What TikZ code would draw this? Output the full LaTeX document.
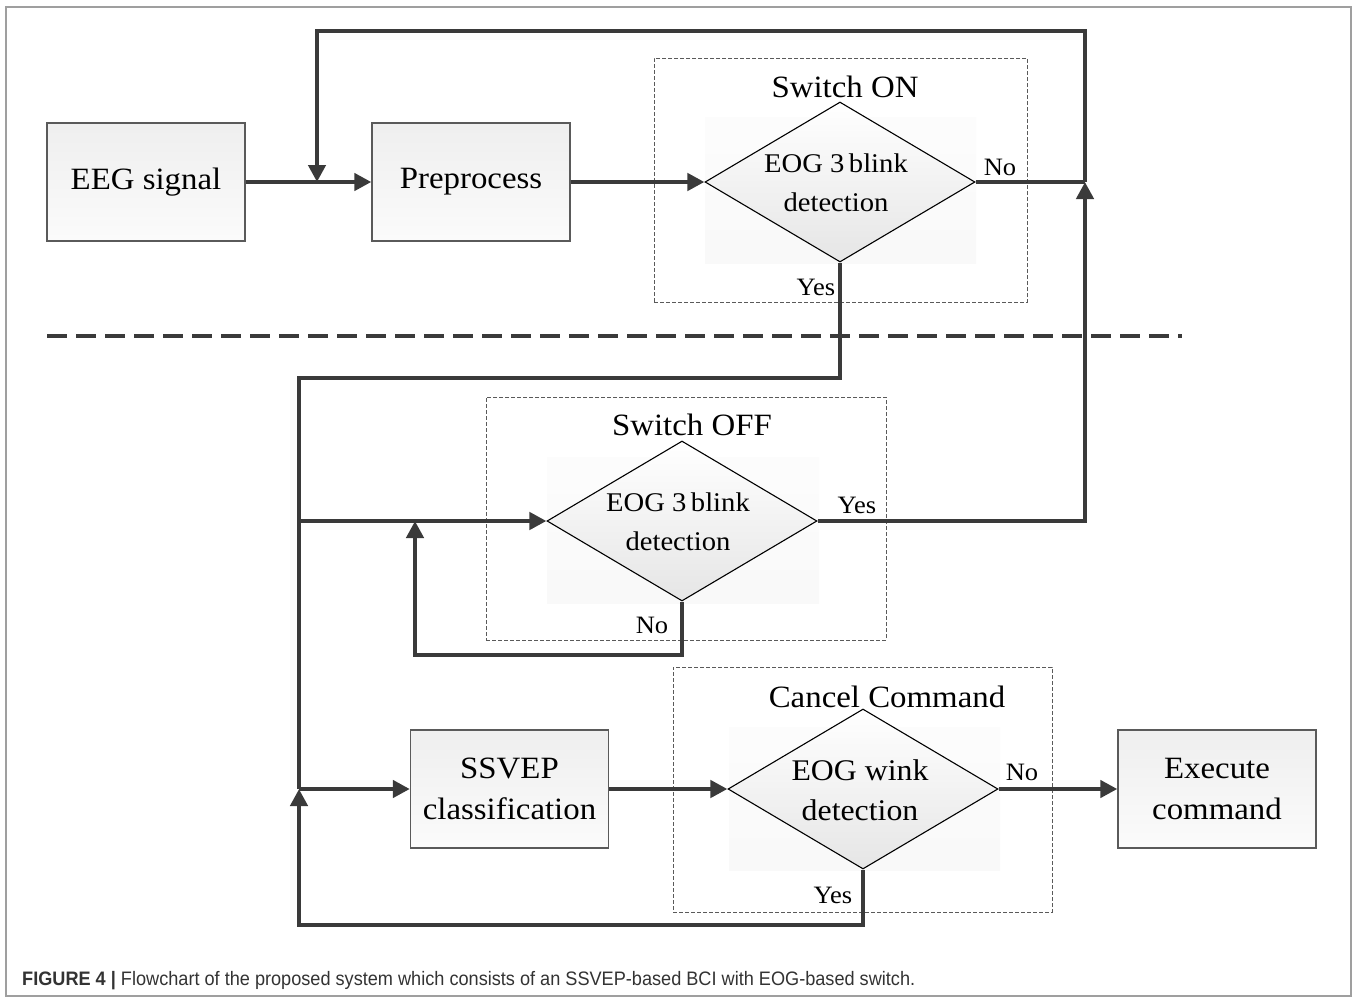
\documentclass[tikz,border=0pt]{standalone}
\usepackage{fontspec}
\setmainfont[FakeStretch=1.06]{Liberation Serif}
\newfontfamily\capfont[FakeStretch=0.93]{Liberation Sans}
\usetikzlibrary{arrows.meta,shapes.geometric}
\definecolor{ln}{HTML}{3A3A3A}
\definecolor{bd}{HTML}{5A5A5A}
\begin{document}
\begin{tikzpicture}[x=1pt,y=-1pt,
 conn/.style={draw=ln,line width=4.5pt},
 arr/.style={conn,-{Triangle[length=17pt,width=17pt]}},
 procbox/.style={draw=bd,line width=1.3pt,top color=gray!13,bottom color=gray!3,minimum width=198pt,minimum height=118pt,inner sep=0pt,align=center,font=\fontsize{31}{41}\selectfont},
 decision/.style={diamond,draw=black,line width=1.1pt,top color=white,bottom color=gray!20,minimum width=270pt,minimum height=160pt,inner sep=0pt},
 dtext/.style={inner sep=0pt,align=center},
 glowbox/.style={top color=gray!2,bottom color=gray!5,draw=none,inner sep=0pt},
 grpbox/.style={draw=bd,line width=1pt,dash pattern=on 4pt off 2pt,inner sep=0pt},
 ttl/.style={font=\fontsize{31}{36}\selectfont,inner sep=0pt},
 lab/.style={font=\fontsize{25}{30}\selectfont,inner sep=0pt}
]
\useasboundingbox (0,0) rectangle (1358,1001);
\fill[white] (0,0) rectangle (1358,1001);
\draw[draw=gray!75,line width=1.5pt] (6,7) rectangle (1351,996);

% group boxes
\node[grpbox,minimum width=373pt,minimum height=244pt] (g1) at (840.5,180) {};
\node[grpbox,minimum width=400pt,minimum height=243pt] (g2) at (686,518.5) {};
\node[grpbox,minimum width=379pt,minimum height=245pt] (g3) at (862.5,789.5) {};

% glow rectangles
\node[glowbox,minimum width=271pt,minimum height=146pt] (s1) at (840.5,190) {};
\node[glowbox,minimum width=272pt,minimum height=146pt] (s2) at (683,530) {};
\node[glowbox,minimum width=271pt,minimum height=143pt] (s3) at (864.5,798.5) {};

% process boxes
\node[procbox] (eeg) at (146,182) {EEG signal};
\node[procbox] (pre) at (471,182) {Preprocess};
\node[procbox] (ssvep) at (509.5,789) {SSVEP\\classification};
\node[procbox] (exec) at (1217,789) {Execute\\command};

% decisions
\node[decision] (d1) at (840,182) {};
\node[decision] (d2) at (682,521) {};
\node[decision] (d3) at (863,789) {};
\node[dtext,font=\fontsize{27}{39}\selectfont] (d1t) at (836,183) {EOG 3\,blink\\detection};
\node[dtext,font=\fontsize{27}{39}\selectfont] (d2t) at (678,522) {EOG 3\,blink\\detection};
\node[dtext,font=\fontsize{30}{40}\selectfont] (d3t) at (860,790) {EOG wink\\detection};

% titles
\node[ttl] (t1) at (845,87) {Switch ON};
\node[ttl] (t2) at (692,425) {Switch OFF};
\node[ttl] (t3) at (887,697) {Cancel Command};

% separator
\draw[ln,line width=4pt,dash pattern=on 20pt off 9pt] (47,336) -- (1182,336);

% coordinates
\coordinate (j0) at (317,182);
\coordinate (j1) at (1085,182);
\coordinate (tl) at (317,31);
\coordinate (tr) at (1085,31);
\coordinate (y1) at (840,378);
\coordinate (l1) at (299,378);
\coordinate (l2) at (299,521);
\coordinate (l3) at (299,789);
\coordinate (l4) at (299,925);
\coordinate (y3) at (863,925);
\coordinate (n2b) at (682,655);
\coordinate (n2a) at (415,655);
\coordinate (n2c) at (415,521);
\coordinate (r2) at (1085,521);

% connectors
\draw[arr] (eeg.east) -- (pre.west);
\draw[arr] (pre.east) -- (d1.west);
\draw[conn] (d1.east) -- (j1);
\draw[arr] (d2.east) -- (r2) -- (j1);
\draw[arr] (j1) -- (tr) -- (tl) -- (j0);
\draw[conn] (d1.south) -- (y1) -- (l1) -- (l3);
\draw[arr] (d3.south) -- (y3) -- (l4) -- (l3);
\draw[arr] (l2) -- (d2.west);
\draw[arr] (l3) -- (ssvep.west);
\draw[arr] (d2.south) -- (n2b) -- (n2a) -- (n2c);
\draw[arr] (ssvep.east) -- (d3.west);
\draw[arr] (d3.east) -- (exec.west);

% labels
\node[lab] (no1) at (1000,167) {No};
\node[lab] (yes1) at (816,287) {Yes};
\node[lab] (yes2) at (857,505) {Yes};
\node[lab] (no2) at (652,625) {No};
\node[lab] (no3) at (1022,772) {No};
\node[lab] (yes3) at (833,895) {Yes};

% caption
\node[anchor=west,inner sep=0pt,text=black!80,font=\capfont\fontsize{19.5}{22}\selectfont] (cap) at (22,981)
 {\textbf{FIGURE 4 |} Flowchart of the proposed system which consists of an SSVEP-based BCI with EOG-based switch.};
\end{tikzpicture}
\end{document}
